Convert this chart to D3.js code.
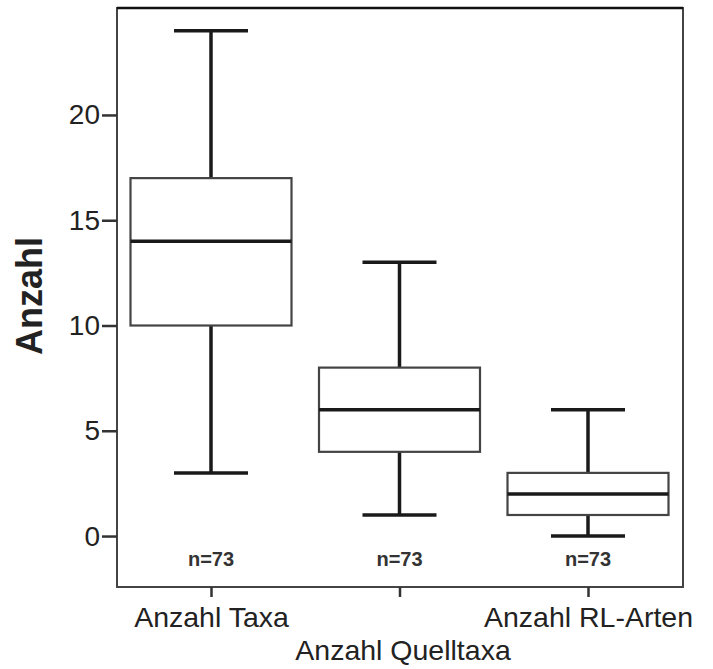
<!DOCTYPE html>
<html>
<head>
<meta charset="utf-8">
<script src="https://cdn.jsdelivr.net/npm/d3@7"></script>
<style>
body { margin: 0; background: #fff; }
text { font-family: "Liberation Sans", Arial, sans-serif; }
</style>
</head>
<body>
<svg width="713" height="669"></svg>
<script>
// Boxplot-Werte
var categories = ["Anzahl Taxa", "Anzahl Quelltaxa", "Anzahl RL-Arten"];
var lowWhisker = [3, 1, 0];
var q1 = [10, 4, 1];
var median = [14, 6, 2];
var q3 = [17, 8, 3];
var highWhisker = [24, 13, 6];
var nLabels = ["n=73", "n=73", "n=73"];
var yTicks = [0, 5, 10, 15, 20];
var tickLabels = ["Anzahl Taxa", "", "Anzahl RL-Arten"];

var data = categories.map((c, i) => ({
    cat: c, lo: lowWhisker[i], q1: q1[i], med: median[i], q3: q3[i], hi: highWhisker[i], n: nLabels[i]
}));

var svg = d3.select("svg");
// nicht "top" nennen, das ist window.top
var pLeft = 117, pRight = 683, pTop = 8, pBottom = 587;

var x = d3.scalePoint()
    .domain(categories)
    .range([211, 588]);

var y = d3.scaleLinear()
    .domain([-2.42, 25.08])
    .range([pBottom, pTop]);

var boxW = 161, capW = 74;

// Rahmen
svg.append("rect")
    .attr("x", pLeft).attr("y", pTop)
    .attr("width", pRight - pLeft).attr("height", pBottom - pTop)
    .attr("fill", "none").attr("stroke", "#444").attr("stroke-width", 2);
svg.append("line")
    .attr("x1", pLeft).attr("x2", pRight).attr("y1", pTop).attr("y2", pTop)
    .attr("stroke", "#111").attr("stroke-width", 2.5);

// y-Achse
var yAxis = svg.append("g")
    .attr("transform", "translate(" + pLeft + ",0)")
    .call(d3.axisLeft(y).tickValues(yTicks).tickSize(15).tickPadding(2));
yAxis.select(".domain").remove();
yAxis.selectAll("line").attr("stroke", "#333").attr("stroke-width", 2.5);
yAxis.selectAll("text").attr("font-size", 28).attr("fill", "#222")
    .style("font-family", "Liberation Sans, Arial, sans-serif");

// x-Achse
var xAxis = svg.append("g")
    .attr("transform", "translate(0," + pBottom + ")")
    .call(d3.axisBottom(x).tickSize(10).tickPadding(10).tickFormat((d, i) => tickLabels[i]));
xAxis.select(".domain").remove();
xAxis.selectAll("line").attr("stroke", "#333").attr("stroke-width", 2.5);
xAxis.selectAll("text").attr("font-size", 28.5).attr("fill", "#222")
    .style("font-family", "Liberation Sans, Arial, sans-serif");

var g = svg.selectAll(".box")
    .data(data)
    .join("g")
    .attr("class", "box");

// Whisker
g.append("line")
    .attr("x1", d => x(d.cat)).attr("x2", d => x(d.cat))
    .attr("y1", d => y(d.hi)).attr("y2", d => y(d.q3))
    .attr("stroke", "#1a1a1a").attr("stroke-width", 3.5);
g.append("line")
    .attr("x1", d => x(d.cat)).attr("x2", d => x(d.cat))
    .attr("y1", d => y(d.q1)).attr("y2", d => y(d.lo))
    .attr("stroke", "#1a1a1a").attr("stroke-width", 3.5);
g.append("line")
    .attr("x1", d => x(d.cat) - capW / 2).attr("x2", d => x(d.cat) + capW / 2)
    .attr("y1", d => y(d.hi)).attr("y2", d => y(d.hi))
    .attr("stroke", "#1a1a1a").attr("stroke-width", 3.5);
g.append("line")
    .attr("x1", d => x(d.cat) - capW / 2).attr("x2", d => x(d.cat) + capW / 2)
    .attr("y1", d => y(d.lo)).attr("y2", d => y(d.lo))
    .attr("stroke", "#1a1a1a").attr("stroke-width", 3.5);

// Box
g.append("rect")
    .attr("x", d => x(d.cat) - boxW / 2)
    .attr("y", d => y(d.q3))
    .attr("width", boxW)
    .attr("height", d => y(d.q1) - y(d.q3))
    .attr("fill", "#fff").attr("stroke", "#444").attr("stroke-width", 2.2);

// Median
g.append("line")
    .attr("x1", d => x(d.cat) - boxW / 2).attr("x2", d => x(d.cat) + boxW / 2)
    .attr("y1", d => y(d.med)).attr("y2", d => y(d.med))
    .attr("stroke", "#1a1a1a").attr("stroke-width", 3.5);

// n-Labels
g.append("text")
    .attr("x", d => x(d.cat))
    .attr("y", 566)
    .attr("text-anchor", "middle")
    .attr("font-size", 20).attr("font-weight", "bold").attr("fill", "#333")
    .text(d => d.n);

// Achsentitel
svg.append("text")
    .attr("x", 403).attr("y", 660)
    .attr("text-anchor", "middle")
    .attr("font-size", 28.5).attr("fill", "#222")
    .text("Anzahl Quelltaxa");

svg.append("text")
    .attr("transform", "translate(42,296) rotate(-90)")
    .attr("text-anchor", "middle")
    .attr("font-size", 36).attr("font-weight", "bold").attr("fill", "#222")
    .text("Anzahl");
</script>
</body>
</html>
